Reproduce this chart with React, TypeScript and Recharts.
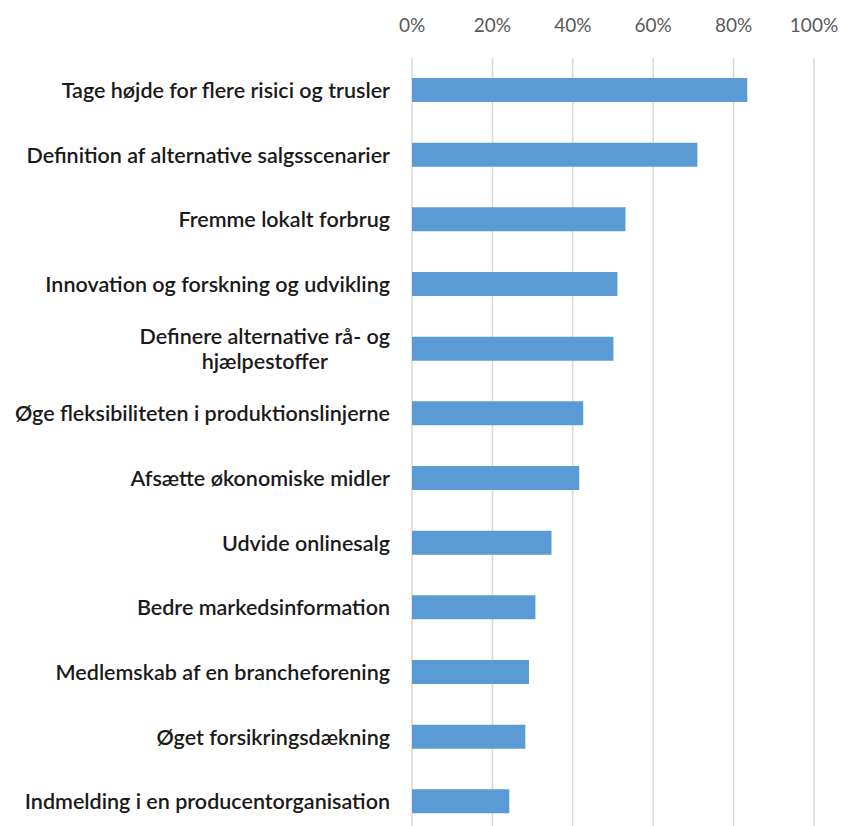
import { BarChart, Bar, XAxis, YAxis, CartesianGrid } from "recharts";

const measures = [
  "Tage højde for flere risici og trusler",
  "Definition af alternative salgsscenarier",
  "Fremme lokalt forbrug",
  "Innovation og forskning og udvikling",
  "Definere alternative rå- og\nhjælpestoffer",
  "Øge fleksibiliteten i produktionslinjerne",
  "Afsætte økonomiske midler",
  "Udvide onlinesalg",
  "Bedre markedsinformation",
  "Medlemskab af en brancheforening",
  "Øget forsikringsdækning",
  "Indmelding i en producentorganisation",
];

const shares = [83.4, 71.0, 53.1, 51.1, 50.1, 42.6, 41.6, 34.7, 30.7, 29.1, 28.2, 24.2];

const percentTicks = [0, 20, 40, 60, 80, 100];

const data = measures.map((name, i) => ({ name, share: shares[i] }));

const LABEL_FONT = "600 21.5px Lato";

let ctx: CanvasRenderingContext2D | null = null;
function textWidth(s: string) {
  if (!ctx) ctx = document.createElement("canvas").getContext("2d");
  if (!ctx) return s.length * 9;
  ctx.font = LABEL_FONT;
  return ctx.measureText(s).width;
}

function CategoryTick(props: any) {
  const { x, y, payload } = props;
  const lines: string[] = String(payload.value).split("\n");
  const lineHeight = 25;
  const widest = Math.max(...lines.map(textWidth));
  const center = x - widest / 2;
  const startY = y - ((lines.length - 1) * lineHeight) / 2;
  return (
    <g>
      {lines.map((line, i) => (
        <text
          key={i}
          x={lines.length > 1 ? center : x}
          y={startY + i * lineHeight}
          dy="0.35em"
          textAnchor={lines.length > 1 ? "middle" : "end"}
          fill="#1a1a1a"
          style={{ font: LABEL_FONT }}
        >
          {line}
        </text>
      ))}
    </g>
  );
}

export default function App() {
  return (
    <div
      style={{
        position: "absolute",
        top: 0,
        left: 0,
        width: 844,
        height: 826,
        overflow: "hidden",
        background: "#fff",
      }}
    >
      <BarChart
        width={844}
        height={834}
        data={data}
        layout="vertical"
        margin={{ top: 0, right: 30, bottom: 0, left: 0 }}
      >
        <CartesianGrid horizontal={false} stroke="#d9d9d9" strokeWidth={1.5} />
        <XAxis
          type="number"
          orientation="top"
          domain={[0, 100]}
          ticks={percentTicks}
          tickFormatter={(v) => `${v}%`}
          axisLine={false}
          tickLine={false}
          tickSize={0}
          tickMargin={26}
          height={58}
          tick={{ fill: "#595959", fontSize: 19, fontFamily: "Lato" }}
        />
        <YAxis
          type="category"
          dataKey="name"
          width={412}
          axisLine={false}
          tickLine={false}
          tickSize={0}
          tickMargin={22}
          interval={0}
          tick={<CategoryTick />}
        />
        <Bar dataKey="share" fill="#5b9bd5" barSize={24} isAnimationActive={false} />
      </BarChart>
    </div>
  );
}
